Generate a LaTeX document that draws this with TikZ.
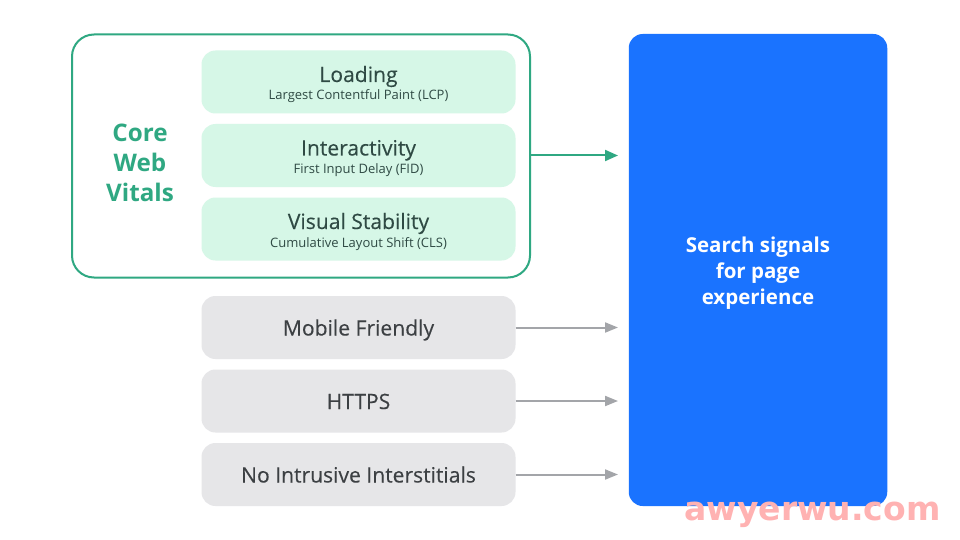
\documentclass[tikz,border=0pt]{standalone}
\usepackage{fontspec}
\setmainfont{Open Sans}
\newfontfamily\wmfont{DejaVu Sans Bold}
\usetikzlibrary{arrows.meta}
\definecolor{cwgreen}{HTML}{2FA882}
\definecolor{cwmint}{HTML}{D6F7E7}
\definecolor{cwgrey}{HTML}{E6E6E8}
\definecolor{cwblue}{HTML}{1A73FF}
\definecolor{cwarrow}{HTML}{A3A5A9}
\definecolor{cwdark}{HTML}{2F4A44}
\definecolor{cwtext}{HTML}{3C4043}
\tikzset{
  x=1pt,y=-1pt,
  inner/.style={rounded corners=14pt,minimum width=314pt,minimum height=63pt,inner sep=0pt,align=center,anchor=center},
  mint/.style={inner,fill=cwmint},
  greyshape/.style={inner,fill=cwgrey},
  big/.style={anchor=base,font=\fontsize{21.1}{24}\selectfont\addfontfeature{FakeBold=0.25},text=cwdark,inner sep=0pt},
  greylabel/.style={big,text=cwtext},
  small/.style={anchor=base,font=\fontsize{13}{15}\selectfont,text=cwdark,inner sep=0pt},
  garrow/.style={draw=cwgreen,line width=2pt,-{Triangle[length=13pt,width=11pt]}},
  grarrow/.style={draw=cwarrow,line width=2pt,-{Triangle[length=13pt,width=10pt]}},
}
\begin{document}
\begin{tikzpicture}
\useasboundingbox (0,0) rectangle (960,540);
\fill[white] (0,0) rectangle (960,540);
\node[draw=cwgreen,line width=2pt,rounded corners=22pt,minimum width=458pt,minimum height=243pt,inner sep=0pt] (core) at (301,156) {};
\node[align=center,inner sep=0pt,text=cwgreen,font=\fontsize{24.2}{30}\selectfont\bfseries] (cwv) at (140,163) {Core\\Web\\Vitals};
\node[mint] (load) at (358.5,82) {};
\node[mint] (inter) at (358.5,155.5) {};
\node[mint] (vis) at (358.5,229) {};
\node[big] (loadt) at (358.5,82) {Loading};
\node[small] (loads) at (358.5,100) {Largest Contentful Paint (LCP)};
\node[big] (intert) at (358.5,155.5) {Interactivity};
\node[small] (inters) at (358.5,173.5) {First Input Delay (FID)};
\node[big] (vist) at (358.5,229) {Visual Stability};
\node[small] (viss) at (358.5,247) {Cumulative Layout Shift (CLS)};
\node[greyshape] (mob) at (358.5,327.5) {};
\node[greyshape] (https) at (358.5,401) {};
\node[greyshape] (noi) at (358.5,474.5) {};
\node[greylabel] (mobt) at (358.5,335.5) {Mobile Friendly};
\node[greylabel] (httpst) at (358.5,409) {HTTPS};
\node[greylabel] (noit) at (358.5,482.5) {No Intrusive Interstitials};
\node[fill=cwblue,rounded corners=14pt,minimum width=258.5pt,minimum height=472pt,inner sep=0pt] (sig) at (758,270) {};
\node[align=center,inner sep=0pt,text=white,font=\fontsize{20.5}{26}\selectfont\bfseries] (sigt) at (758,273.5) {Search signals\\for page\\experience};
\coordinate (a1) at (618,155.5);
\coordinate (a2) at (618,327.5);
\coordinate (a3) at (618,401);
\coordinate (a4) at (618,474.5);
\draw[garrow] (core.east |- a1) -- (a1);
\draw[grarrow] (mob.east) -- (a2);
\draw[grarrow] (https.east) -- (a3);
\draw[grarrow] (noi.east) -- (a4);
\node[anchor=base,inner sep=0pt,text=red!30!white,font=\wmfont\fontsize{33}{36}\selectfont] (wm) at (812.5,520) {awyerwu.com};
\end{tikzpicture}
\end{document}
